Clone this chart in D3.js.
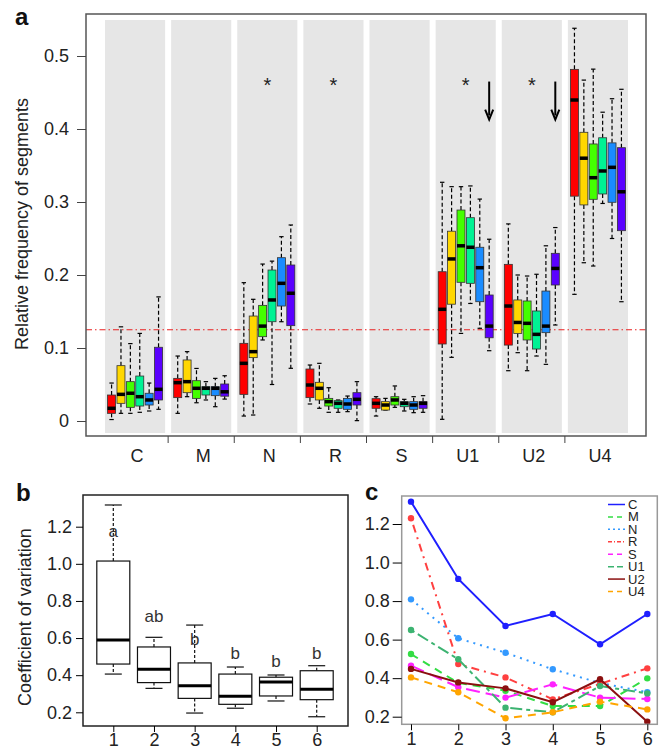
<!DOCTYPE html>
<html><head><meta charset="utf-8">
<script src="https://cdn.jsdelivr.net/npm/d3@7"></script>
<style>
body{margin:0;background:#fff}
svg{display:block;font-family:"Liberation Sans",Arial,Helvetica,sans-serif}
</style>
</head><body>
<svg id="chart" width="668" height="751"></svg>
<script>
// ---------- DATA ----------
const categories = ["C","M","N","R","S","U1","U2","U4"];
const seriesIdx = [0,1,2,3,4,5];
const seriesColors = ["#ff0000","#ffd700","#44ff00","#00f294","#1a8cff","#5a00ff"];
// each entry: [whiskerLow, q1, median, q3, whiskerHigh]
const boxC  = [[0.002,0.0105,0.0174,0.0356,0.052],[0.0105,0.0242,0.0365,0.0758,0.129],[0.0105,0.0187,0.038,0.0539,0.106],[0.0119,0.0205,0.0333,0.0616,0.120],[0.0137,0.0219,0.0288,0.038,0.052],[0.016,0.0288,0.0434,0.101,0.170]];
const boxM  = [[0.0105,0.032,0.0525,0.0584,0.089],[0.0333,0.0388,0.0539,0.0836,0.095],[0.025,0.031,0.0448,0.0552,0.072],[0.0288,0.0356,0.0448,0.047,0.0539],[0.0196,0.0347,0.0448,0.047,0.0584],[0.030,0.034,0.040,0.0507,0.062]];
const boxN  = [[0.0068,0.0365,0.079,0.1064,0.1895],[0.0082,0.0868,0.095,0.1438,0.1667],[0.111,0.1155,0.130,0.1584,0.215],[0.050,0.136,0.1658,0.2068,0.219],[0.136,0.1575,0.1886,0.2237,0.2525],[0.0722,0.1306,0.175,0.2137,0.2685]];
const boxR  = [[0.0233,0.032,0.0493,0.0712,0.0767],[0.0174,0.0288,0.0448,0.053,0.079],[0.0119,0.0205,0.0265,0.031,0.0456],[0.0119,0.0174,0.0242,0.0279,0.0288],[0.0128,0.016,0.0233,0.031,0.0342],[0.0005,0.0219,0.0297,0.0388,0.0539]];
const boxS  = [[0.0068,0.0174,0.0242,0.0306,0.0333],[0.015,0.015,0.0219,0.0265,0.031],[0.0187,0.0219,0.0288,0.0333,0.048],[0.0137,0.0196,0.0242,0.0265,0.0297],[0.0114,0.016,0.0219,0.0265,0.0333],[0.0119,0.0174,0.0242,0.0265,0.0347]];
const boxU1 = [[0.0023,0.1055,0.153,0.2045,0.327],[0.0872,0.160,0.222,0.260,0.321],[0.120,0.190,0.240,0.289,0.321],[0.161,0.1886,0.238,0.2785,0.322],[0.127,0.1634,0.210,0.238,0.304],[0.0963,0.114,0.130,0.1726,0.249]];
const boxU2 = [[0.0689,0.104,0.1575,0.2146,0.270],[0.0936,0.120,0.135,0.1658,0.200],[0.0689,0.111,0.1338,0.1644,0.1986],[0.089,0.0986,0.1187,0.1507,0.201],[0.0776,0.121,0.130,0.178,0.240],[0.1315,0.1863,0.209,0.2297,0.265]];
const boxU4 = [[0.1735,0.308,0.4397,0.4817,0.538],[0.2168,0.296,0.360,0.3955,0.467],[0.2123,0.3037,0.3333,0.3795,0.482],[0.298,0.311,0.3425,0.388,0.423],[0.250,0.2996,0.3475,0.381,0.4415],[0.1634,0.2607,0.314,0.3744,0.4544]];
const boxStats = [boxC, boxM, boxN, boxR, boxS, boxU1, boxU2, boxU4];
const yTicksA = [0,0.1,0.2,0.3,0.4,0.5];
const refLine = 0.125;
const starCats = ["N","R","U1","U2"];
const starValue = 0.466;
const arrowCats = ["U1","U2"];
const arrowFrom = 0.465, arrowTo = 0.413;

// panel b
const cvGroups = [1,2,3,4,5,6];
const cvStats = [[0.406,0.460,0.590,1.015,1.317],[0.329,0.360,0.432,0.552,0.604],[0.196,0.275,0.343,0.466,0.670],[0.222,0.243,0.286,0.406,0.444],[0.261,0.288,0.363,0.389,0.401],[0.176,0.268,0.324,0.424,0.451]];
const cvLetters = ["a","ab","b","b","b","b"];
const cvLetterValue = [1.146,0.688,0.563,0.487,0.446,0.487];
const yTicksBC = [0.2,0.4,0.6,0.8,1.0,1.2];

// panel c
const cvLineNames = ["C","M","N","R","S","U1","U2","U4"];
const cvC  = [1.316,0.915,0.671,0.733,0.576,0.733];
const cvM  = [0.525,0.375,0.335,0.255,0.255,0.399];
const cvN  = [0.809,0.607,0.532,0.446,0.375,0.327];
const cvR  = [1.23,0.473,0.404,0.29,0.37,0.451];
const cvS  = [0.465,0.353,0.299,0.368,0.299,0.292];
const cvU1 = [0.65,0.498,0.247,0.223,0.359,0.321];
const cvU2 = [0.448,0.378,0.347,0.275,0.394,0.174];
const cvU4 = [0.404,0.327,0.192,0.223,0.278,0.238];
const cvLines = [cvC,cvM,cvN,cvR,cvS,cvU1,cvU2,cvU4];
const lineColors = ["#1f1fff","#33dd44","#3399ff","#ff4040","#ff22ff","#3cb371","#8b1010","#ffa500"];
const lineDash = [null,"8,6","2,5","2,5,8,5","14,6","4,4,12,4",null,"8,6"];

// ---------- DRAW ----------
const svg = d3.select("#chart");
const txt = "#222";
const fmt = v => v === 0 ? "0" : d3.format(".1f")(v);

// ===== Panel a =====
const A = {l:86, r:646, t:14, b:436};
const yA = d3.scaleLinear().domain([0,0.5]).range([421,56]);
const xA = d3.scaleBand().domain(categories).range([104,633]).paddingInner(0).paddingOuter(0);
const gA = svg.append("g");

gA.selectAll("rect.panel").data(categories).enter().append("rect")
  .attr("x", d => xA(d)+1).attr("y", 20)
  .attr("width", xA.bandwidth()-6).attr("height", 413)
  .attr("fill", "#e6e6e6");

const xSub = d3.scaleBand().domain(seriesIdx).range([0, xA.bandwidth()-6]).paddingOuter(0.2);
const bw = 8;

gA.append("line").attr("x1",A.l).attr("x2",A.r).attr("y1",yA(refLine)).attr("y2",yA(refLine))
  .attr("stroke","#e82020").attr("stroke-width",1).attr("stroke-dasharray","6,3,1.5,3");

categories.forEach((cat,ci) => {
  const g = gA.append("g").attr("transform",`translate(${xA(cat)+1},0)`);
  boxStats[ci].forEach((s,si) => {
    const cx = xSub(si) + xSub.bandwidth()/2;
    const col = seriesColors[si];
    g.append("line").attr("x1",cx).attr("x2",cx).attr("y1",yA(s[3])).attr("y2",yA(s[4]))
      .attr("stroke","#000").attr("stroke-dasharray","4,2.5").attr("stroke-width",1.2);
    g.append("line").attr("x1",cx).attr("x2",cx).attr("y1",yA(s[1])).attr("y2",yA(s[0]))
      .attr("stroke","#000").attr("stroke-dasharray","4,2.5").attr("stroke-width",1.2);
    [s[0],s[4]].forEach(v => g.append("line").attr("x1",cx-2.2).attr("x2",cx+2.2)
      .attr("y1",yA(v)).attr("y2",yA(v)).attr("stroke","#000").attr("stroke-width",1.2));
    g.append("rect").attr("x",cx-bw/2).attr("y",yA(s[3])).attr("width",bw)
      .attr("height",Math.max(1,yA(s[1])-yA(s[3]))).attr("fill",col)
      .attr("stroke","#333").attr("stroke-width",0.8);
    g.append("line").attr("x1",cx-bw/2).attr("x2",cx+bw/2).attr("y1",yA(s[2])).attr("y2",yA(s[2]))
      .attr("stroke","#000").attr("stroke-width",3.5);
  });
});

gA.selectAll("text.star").data(starCats).enter().append("text")
  .attr("x", d => xA(d)+xA.bandwidth()/2 - 2).attr("y", yA(starValue)+11)
  .attr("text-anchor","middle").attr("font-size",20).attr("fill","#222").text("*");
arrowCats.forEach(cat => {
  const cx = xA(cat)+1 + xSub(5) + xSub.bandwidth()/2;
  gA.append("line").attr("x1",cx).attr("x2",cx).attr("y1",yA(arrowFrom)).attr("y2",yA(arrowTo)-4)
    .attr("stroke","#000").attr("stroke-width",2);
  gA.append("path").attr("d",`M${cx-4},${yA(arrowTo)-10} L${cx},${yA(arrowTo)} L${cx+4},${yA(arrowTo)-10}`)
    .attr("fill","none").attr("stroke","#000").attr("stroke-width",2);
});

gA.append("rect").attr("x",A.l).attr("y",A.t).attr("width",A.r-A.l).attr("height",A.b-A.t)
  .attr("fill","none").attr("stroke","#555").attr("stroke-width",1.5);

const axA = gA.append("g").attr("transform",`translate(${A.l},0)`)
  .call(d3.axisLeft(yA).tickValues(yTicksA).tickFormat(fmt).tickSize(9).tickPadding(8));
axA.select(".domain").remove();
axA.selectAll("text").attr("font-size",18).attr("fill",txt).attr("font-family","Liberation Sans, Arial, sans-serif");
axA.selectAll("line").attr("stroke","#444");

gA.selectAll("text.xl").data(categories).enter().append("text")
  .attr("x", d => xA(d)+xA.bandwidth()/2).attr("y",462)
  .attr("text-anchor","middle").attr("font-size",18).attr("fill",txt).text(d=>d);
gA.selectAll("line.xt").data(categories.slice(1)).enter().append("line")
  .attr("x1", d => xA(d)-2).attr("x2", d => xA(d)-2).attr("y1",A.b).attr("y2",A.b+7)
  .attr("stroke","#444");

gA.append("text").attr("transform","translate(28,224) rotate(-90)")
  .attr("text-anchor","middle").attr("font-size",18).attr("fill",txt).text("Relative frequency of segments");
svg.append("text").attr("x",15).attr("y",25).attr("font-size",24).attr("font-weight","bold").attr("fill","#111").text("a");

// ===== Panel b =====
const B = {l:83, r:348, t:495, b:726};
const yB = d3.scaleLinear().domain([0.2,1.2]).range([712.3,526.7]);
const xB = d3.scaleLinear().domain([1,6]).range([113.3,316.7]);
const gB = svg.append("g");
const bwB = 33;
cvGroups.forEach((grp,i) => {
  const s = cvStats[i], cx = xB(grp);
  gB.append("line").attr("x1",cx).attr("x2",cx).attr("y1",yB(s[3])).attr("y2",yB(s[4]))
    .attr("stroke","#111").attr("stroke-dasharray","3,2").attr("stroke-width",1.2);
  gB.append("line").attr("x1",cx).attr("x2",cx).attr("y1",yB(s[1])).attr("y2",yB(s[0]))
    .attr("stroke","#111").attr("stroke-dasharray","3,2").attr("stroke-width",1.2);
  [s[0],s[4]].forEach(v => gB.append("line").attr("x1",cx-8.5).attr("x2",cx+8.5)
    .attr("y1",yB(v)).attr("y2",yB(v)).attr("stroke","#111").attr("stroke-width",1.2));
  gB.append("rect").attr("x",cx-bwB/2).attr("y",yB(s[3])).attr("width",bwB)
    .attr("height",yB(s[1])-yB(s[3])).attr("fill","#fff").attr("stroke","#111").attr("stroke-width",1.2);
  gB.append("line").attr("x1",cx-bwB/2).attr("x2",cx+bwB/2).attr("y1",yB(s[2])).attr("y2",yB(s[2]))
    .attr("stroke","#000").attr("stroke-width",3);
  gB.append("text").attr("x",cx).attr("y",yB(cvLetterValue[i])).attr("text-anchor","middle")
    .attr("font-size",17).attr("fill","#333").text(cvLetters[i]);
});
gB.append("rect").attr("x",B.l).attr("y",B.t).attr("width",B.r-B.l).attr("height",B.b-B.t)
  .attr("fill","none").attr("stroke","#222").attr("stroke-width",1.5);
const axB = gB.append("g").attr("transform",`translate(${B.l},0)`)
  .call(d3.axisLeft(yB).tickValues(yTicksBC).tickFormat(d3.format(".1f")).tickSize(7).tickPadding(4));
axB.select(".domain").remove();
axB.selectAll("text").attr("font-size",18).attr("fill",txt).attr("font-family","Liberation Sans, Arial, sans-serif");
const axBx = gB.append("g").attr("transform",`translate(0,${B.b})`)
  .call(d3.axisBottom(xB).tickValues(cvGroups).tickFormat(d3.format("d")).tickSize(6).tickPadding(1));
axBx.select(".domain").remove();
axBx.selectAll("text").attr("font-size",18).attr("fill",txt).attr("font-family","Liberation Sans, Arial, sans-serif");
gB.append("text").attr("transform","translate(31,617) rotate(-90)")
  .attr("text-anchor","middle").attr("font-size",18).attr("fill",txt).text("Coefficient of variation");
svg.append("text").attr("x",16).attr("y",501).attr("font-size",24).attr("font-weight","bold").attr("fill","#111").text("b");

// ===== Panel c =====
const Cf = {l:401.7, r:657.3, t:496, b:724.3};
const yC = d3.scaleLinear().domain([0.2,1.2]).range([716.7,524]);
const xC = d3.scaleLinear().domain([1,6]).range([411,647.3]);
const gC = svg.append("g");
const lineGen = d3.line().x((d,i)=>xC(cvGroups[i])).y(d=>yC(d));
cvLines.forEach((vals,k) => {
  const p = gC.append("path").datum(vals).attr("d",lineGen).attr("fill","none")
    .attr("stroke",lineColors[k]).attr("stroke-width",2);
  if (lineDash[k]) p.attr("stroke-dasharray",lineDash[k]);
  gC.selectAll(null).data(vals).enter().append("circle")
    .attr("cx",(d,i)=>xC(cvGroups[i])).attr("cy",d=>yC(d)).attr("r",3.2).attr("fill",lineColors[k]);
});
gC.append("rect").attr("x",Cf.l).attr("y",Cf.t).attr("width",Cf.r-Cf.l).attr("height",Cf.b-Cf.t)
  .attr("fill","none").attr("stroke","#999").attr("stroke-width",1.5);
const axC = gC.append("g").attr("transform",`translate(${Cf.l},0)`)
  .call(d3.axisLeft(yC).tickValues(yTicksBC).tickFormat(d3.format(".1f")).tickSize(9).tickPadding(3));
axC.select(".domain").remove();
axC.selectAll("text").attr("font-size",18).attr("fill",txt).attr("font-family","Liberation Sans, Arial, sans-serif");
const axCx = gC.append("g").attr("transform",`translate(0,${Cf.b})`)
  .call(d3.axisBottom(xC).tickValues(cvGroups).tickFormat(d3.format("d")).tickSize(6).tickPadding(2));
axCx.select(".domain").remove();
axCx.selectAll("text").attr("font-size",18).attr("fill",txt).attr("font-family","Liberation Sans, Arial, sans-serif");
const legY = d3.scalePoint().domain(cvLineNames).range([504.5,591.5]);
cvLineNames.forEach((nm,k) => {
  const y = legY(nm);
  const l = gC.append("line").attr("x1",608).attr("x2",625).attr("y1",y).attr("y2",y)
    .attr("stroke",lineColors[k]).attr("stroke-width",1.5);
  if (lineDash[k]) l.attr("stroke-dasharray", k===3 ? "4,2,1,2" : k===5 ? "6,3" : k===2 ? "2,3" : "5,4");
  gC.append("text").attr("x",628).attr("y",y+4.5).attr("font-size",13).attr("fill",txt).text(nm);
});
svg.append("text").attr("x",365).attr("y",500).attr("font-size",24).attr("font-weight","bold").attr("fill","#111").text("c");
</script>
</body></html>
